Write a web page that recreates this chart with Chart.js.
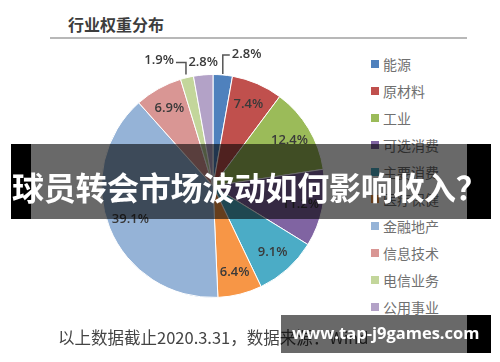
<!DOCTYPE html>
<html>
<head>
<meta charset="utf-8">
<script src="https://cdn.jsdelivr.net/npm/chart.js@4.4.1/dist/chart.umd.min.js"></script>
<style>
  body { margin: 0; background: #fff; }
  #wrap { position: relative; width: 500px; height: 362px; overflow: hidden; font-family: "Noto Sans CJK SC", sans-serif; }
  #title { position: absolute; left: 68px; top: 12px; font-size: 16px; font-weight: bold; color: #3d3d3d; line-height: 24px; }
  #rule { position: absolute; left: 50px; top: 37px; width: 417px; height: 2px; background: #b8b8b8; }
  #pie { position: absolute; left: 0; top: 40px; }
  #legend { position: absolute; left: 371px; top: 50px; }
  .row { height: 27.1px; display: flex; align-items: center; font-size: 14px; color: #707070; }
  .sq { width: 8px; height: 8px; margin-right: 4px; }
  #note { position: absolute; left: 58px; top: 325px; font-size: 16.5px; color: #444; line-height: 24px; white-space: nowrap; }
  .band { position: absolute; }
  #bigText { position: absolute; left: 12px; top: 164px; font-size: 32px; font-weight: bold; color: #fff; line-height: 44px; white-space: nowrap; letter-spacing: -0.3px; }
  #urlText { position: absolute; left: 292px; top: 321px; font-family: "Open Sans", sans-serif; font-size: 16.5px; font-weight: bold; color: #fff; line-height: 24px; white-space: nowrap; }
</style>
</head>
<body>
<div id="wrap">
  <div id="title">行业权重分布</div>
  <div id="rule"></div>
  <canvas id="pie" width="360" height="292"></canvas>
  <div id="legend"></div>
  <div id="note">以上数据截止2020.3.31，数据来源：Wind</div>

  <div class="band" style="left:11px;top:144px;width:20px;height:75px;background:#000"></div>
  <div class="band" style="left:31px;top:144px;width:436px;height:75px;background:rgba(0,0,0,0.59)"></div>
  <div class="band" style="left:467px;top:144px;width:24px;height:75px;background:#000"></div>
  <div id="bigText">球员转会市场波动如何影响收入？</div>

  <div class="band" style="left:281px;top:315px;width:186px;height:38px;background:rgba(0,0,0,0.59)"></div>
  <div class="band" style="left:467px;top:315px;width:24px;height:38px;background:#000"></div>
  <div id="urlText">www.tap-j9games.com</div>
</div>
<script>
var categories = ['能源', '原材料', '工业', '可选消费', '主要消费', '医疗保健', '金融地产', '信息技术', '电信业务', '公用事业'];
var weights = [2.8, 7.4, 12.4, 11.2, 9.1, 6.4, 39.1, 6.9, 1.9, 2.8];
var sliceColors = ['#4F81BD', '#C0504D', '#9BBB59', '#8064A2', '#4BACC6', '#F79646', '#95B3D7', '#D99694', '#C3D69B', '#B3A2C7'];

// legend as html rows
var legend = document.getElementById('legend');
categories.forEach(function (name, i) {
    var row = document.createElement('div');
    row.className = 'row';
    row.innerHTML = '<span class="sq" style="background:' + sliceColors[i] + '"></span>' + name;
    legend.appendChild(row);
});

// percent labels, small slices get a label outside
var pctLabels = {
    id: 'pctLabels',
    afterDatasetsDraw: function (chart) {
        var ctx = chart.ctx;
        var meta = chart.getDatasetMeta(0);
        ctx.save();
        ctx.font = '600 13px "Open Sans"';
        ctx.fillStyle = '#3a3a3a';
        ctx.strokeStyle = '#555';
        ctx.lineWidth = 1.5;
        ctx.textBaseline = 'middle';
        meta.data.forEach(function (arc, i) {
            var p = arc.getProps(['x', 'y', 'startAngle', 'endAngle', 'outerRadius']);
            var mid = (p.startAngle + p.endAngle) / 2;
            var txt = weights[i].toFixed(1) + '%';
            var cos = Math.cos(mid), sin = Math.sin(mid);
            if (weights[i] >= 3) {
                var r = p.outerRadius * 0.8;
                ctx.textAlign = 'center';
                ctx.fillText(txt, p.x + cos * r, p.y + sin * r);
                return;
            }
            var ex = p.x + cos * p.outerRadius, ey = p.y + sin * p.outerRadius;
            if (i === 0) {
                ctx.beginPath();
                ctx.moveTo(ex, ey - 1);
                ctx.lineTo(ex, ey - 20);
                ctx.lineTo(ex + 7, ey - 20);
                ctx.stroke();
                ctx.textAlign = 'left';
                ctx.fillText(txt, ex + 9, ey - 21);
            } else if (i === 8) {
                ctx.beginPath();
                ctx.moveTo(ex - 1, ey - 3);
                ctx.lineTo(ex - 1, ey - 15);
                ctx.lineTo(ex - 11, ey - 15);
                ctx.stroke();
                ctx.textAlign = 'right';
                ctx.fillText(txt, ex - 13, ey - 17);
            } else {
                ctx.textAlign = 'center';
                ctx.fillText(txt, ex, ey - 13);
            }
        });
        ctx.restore();
    }
};

var chart = new Chart(document.getElementById('pie'), {
    type: 'pie',
    data: {
        labels: categories,
        datasets: [{
            data: weights,
            backgroundColor: sliceColors,
            borderColor: '#fff',
            borderWidth: 1,
            hoverOffset: 0
        }]
    },
    options: {
        responsive: false,
        animation: false,
        layout: { padding: { left: 101, right: 35, top: 34, bottom: 34 } },
        plugins: {
            legend: { display: false },
            tooltip: { enabled: false }
        }
    },
    plugins: [pctLabels]
});
</script>
</body>
</html>
